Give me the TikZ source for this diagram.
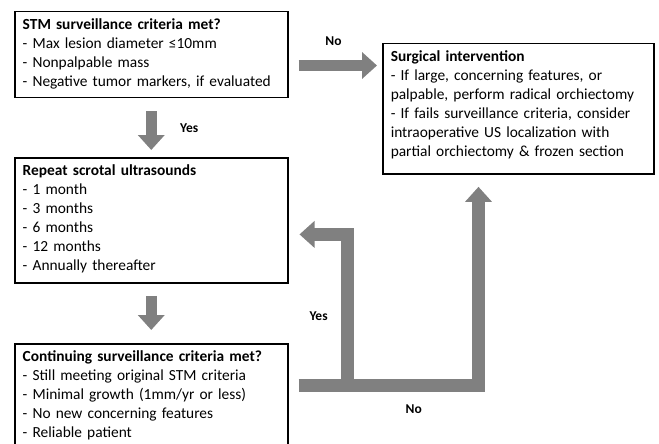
\documentclass[tikz,border=0pt]{standalone}
\usepackage{fontspec}
\setmainfont{Carlito}
\usetikzlibrary{arrows.meta}

\definecolor{arrowgray}{RGB}{128,128,128}
\newcommand{\boxfoot}[1]{\rule[-#1]{0pt}{#1}}

\tikzset{
  box/.style={draw, line width=1.5pt, anchor=north west, align=left,
    inner xsep=8pt, inner ysep=7pt,
    font=\fontsize{15.4}{18.9}\selectfont},
  blk/.style={draw=arrowgray, line width=11pt,
    -{Triangle[width=26pt,length=15pt]}},
  elbow/.style={blk, line width=13pt, line join=miter},
  lbl/.style={font=\bfseries\fontsize{13.5}{15}\selectfont}
}

\begin{document}
\begin{tikzpicture}[x=1pt,y=-1pt]
  \useasboundingbox (0,0) rectangle (659,444);

  % boxes
  \node[box, text width=257pt] (stm) at (14,11)
    {\textbf{STM surveillance criteria met?}\\
     - Max lesion diameter ≤10mm\\
     - Nonpalpable mass\\
     - Negative tumor markers, if evaluated\boxfoot{4pt}};
  \node[box, text width=255pt] (surg) at (382,43)
    {\textbf{Surgical intervention}\\
     - If large, concerning features, or\\
     palpable, perform radical orchiectomy\\
     - If fails surveillance criteria, consider\\
     intraoperative US localization with\\
     partial orchiectomy \& frozen section\boxfoot{11pt}};
  \node[box, text width=257pt] (scan) at (14,157)
    {\textbf{Repeat scrotal ultrasounds}\\
     - 1 month\\
     - 3 months\\
     - 6 months\\
     - 12 months\\
     - Annually thereafter\boxfoot{6pt}};
  \node[box, text width=257pt] (cont) at (14,343)
    {\textbf{Continuing surveillance criteria met?}\\
     - Still meeting original STM criteria\\
     - Minimal growth (1mm/yr or less)\\
     - No new concerning features\\
     - Reliable patient};

  % straight arrows
  \draw[blk] ([yshift=-13pt]stm.south) -- ([yshift=7pt]scan.north)
    node[lbl, pos=0.45, right=20pt] {Yes};
  \draw[blk] ([yshift=-12pt]scan.south) -- ([yshift=13pt]cont.north);
  \coordinate (noout) at ([xshift=10pt,yshift=-11pt]stm.east);
  \draw[blk, shorten >=5pt] (noout) -- (noout -| surg.west)
    node[lbl, pos=0.42, above=11pt] {No};

  % loop back / up
  \coordinate (fork) at ([xshift=10pt,yshift=-42.5pt]cont.north east);
  \coordinate (back) at ([xshift=11pt,yshift=-14pt]scan.east);
  \draw[elbow] (fork) -| ([xshift=96.5pt,yshift=-12pt]surg.south west)
    node[lbl, pos=0.32, below=9pt] {No};
  \draw[elbow] ([xshift=49pt]fork) |- (back)
    node[lbl, pos=0.23, left=10pt] {Yes};
\end{tikzpicture}
\end{document}
